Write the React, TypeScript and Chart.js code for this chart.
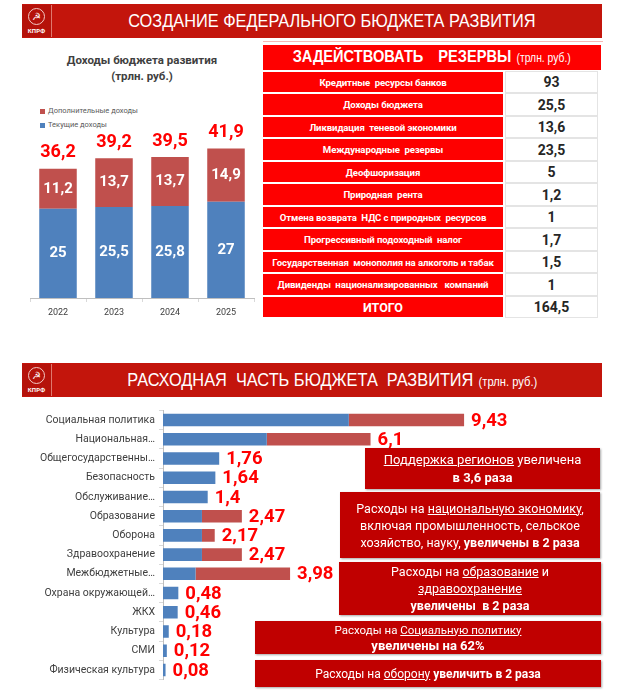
import React, { useEffect, useRef } from 'react';
import { Chart, registerables } from 'chart.js';

Chart.register(...registerables);

// ---------- DATA ----------
const years = ['2022', '2023', '2024', '2025'];
const currentIncome = [25, 25.5, 25.8, 27];
const extraIncome = [11.2, 13.7, 13.7, 14.9];
const incomeTotals = [36.2, 39.2, 39.5, 41.9];

const reserveItems = [
  'Кредитные  ресурсы банков',
  'Доходы бюджета',
  'Ликвидация  теневой экономики',
  'Международные  резервы',
  'Деофшоризация',
  'Природная  рента',
  'Отмена возврата  НДС с природных  ресурсов',
  'Прогрессивный подоходный  налог',
  'Государственная  монополия на алкоголь и табак',
  'Дивиденды  национализированных   компаний',
];
const reserveValues = [93, 25.5, 13.6, 23.5, 5, 1.2, 1, 1.7, 1.5, 1];
const reserveTotal = 164.5;

const spendCategories = [
  'Социальная политика',
  'Национальная…',
  'Общегосударственны…',
  'Безопасность',
  'Обслуживание…',
  'Образование',
  'Оборона',
  'Здравоохранение',
  'Межбюджетные…',
  'Охрана окружающей…',
  'ЖКХ',
  'Культура',
  'СМИ',
  'Физическая культура',
];
const spendBase = [5.82, 3.25, 1.76, 1.64, 1.4, 1.22, 1.22, 1.22, 1.02, 0.48, 0.46, 0.18, 0.12, 0.08];
const spendExtra = [3.61, 3.25, 0, 0, 0, 1.25, 0.4, 1.25, 2.96, 0, 0, 0, 0, 0];
const spendLabels = [9.43, 6.1, 1.76, 1.64, 1.4, 2.47, 2.17, 2.47, 3.98, 0.48, 0.46, 0.18, 0.12, 0.08];

// ---------- STYLE ----------
const CAL = 'Roboto, "Open Sans", "Noto Sans", sans-serif';
const NARROW = '"Liberation Sans", Arial, sans-serif';
const BLUE = '#4f81bd';
const RED = '#c0504d';
const BANNER = '#c3150c';

const fmt = (v: number) => String(v).replace('.', ',');

const incomeLabelsPlugin = {
  id: 'incomeLabels',
  afterDatasetsDraw(chart: any) {
    const { ctx } = chart;
    ctx.save();
    ctx.textAlign = 'center';
    ctx.textBaseline = 'middle';
    chart.data.datasets.forEach((ds: any, di: number) => {
      const meta = chart.getDatasetMeta(di);
      meta.data.forEach((el: any, i: number) => {
        ctx.fillStyle = '#ffffff';
        ctx.font = `bold 15px ${CAL}`;
        ctx.fillText(fmt(ds.data[i]), el.x, (el.y + el.base) / 2);
      });
    });
    const topMeta = chart.getDatasetMeta(chart.data.datasets.length - 1);
    topMeta.data.forEach((el: any, i: number) => {
      ctx.fillStyle = '#ff0000';
      ctx.font = `bold 18px ${CAL}`;
      ctx.fillText(fmt(incomeTotals[i]), el.x, el.y - 16);
    });
    ctx.restore();
  },
};

const spendLabelsPlugin = {
  id: 'spendLabels',
  afterDatasetsDraw(chart: any) {
    const { ctx } = chart;
    ctx.save();
    ctx.textAlign = 'left';
    ctx.textBaseline = 'middle';
    ctx.fillStyle = '#ff0000';
    ctx.font = `bold 18.5px ${CAL}`;
    const m0 = chart.getDatasetMeta(0);
    const m1 = chart.getDatasetMeta(1);
    m0.data.forEach((el: any, i: number) => {
      const end = Math.max(el.x, m1.data[i].x);
      ctx.fillText(fmt(spendLabels[i]), end + 7, el.y + 1);
    });
    ctx.restore();
  },
};

function IncomeChart() {
  const ref = useRef<HTMLCanvasElement>(null);
  useEffect(() => {
    const chart = new Chart(ref.current as HTMLCanvasElement, {
      type: 'bar',
      data: {
        labels: years,
        datasets: [
          { label: 'Текущие доходы', data: currentIncome, backgroundColor: BLUE, barPercentage: 0.67, categoryPercentage: 1 },
          { label: 'Дополнительные доходы', data: extraIncome, backgroundColor: RED, barPercentage: 0.67, categoryPercentage: 1 },
        ],
      },
      options: {
        animation: false,
        responsive: false,
        maintainAspectRatio: false,
        layout: { padding: { left: 8, right: 4, top: 0, bottom: 0 } },
        plugins: { legend: { display: false }, tooltip: { enabled: false }, title: { display: false } },
        scales: {
          x: {
            stacked: true,
            grid: { display: true, drawOnChartArea: false, drawTicks: true, tickLength: 4, color: '#d9d9d9' },
            border: { display: true, color: '#bfbfbf' },
            ticks: { font: { family: CAL, size: 9 }, color: '#404040', padding: 5 },
            afterFit: (s: any) => { s.height = 27; },
          },
          y: { stacked: true, display: false, min: 0, max: 55.5 },
        },
      },
      plugins: [incomeLabelsPlugin],
    });
    return () => chart.destroy();
  }, []);
  return <canvas ref={ref} width={236} height={225} style={{ position: 'absolute', left: 22, top: 100, width: 236, height: 225 }} />;
}

function SpendChart() {
  const ref = useRef<HTMLCanvasElement>(null);
  useEffect(() => {
    const chart = new Chart(ref.current as HTMLCanvasElement, {
      type: 'bar',
      data: {
        labels: spendCategories,
        datasets: [
          { label: 'Текущие', data: spendBase, backgroundColor: BLUE, barPercentage: 0.65, categoryPercentage: 1 },
          { label: 'Увеличение', data: spendExtra, backgroundColor: RED, barPercentage: 0.65, categoryPercentage: 1 },
        ],
      },
      options: {
        indexAxis: 'y',
        animation: false,
        responsive: false,
        maintainAspectRatio: false,
        layout: { padding: { left: 0, right: 27, top: 7, bottom: 8 } },
        plugins: { legend: { display: false }, tooltip: { enabled: false } },
        scales: {
          x: { stacked: true, display: false, min: 0, max: 14 },
          y: {
            stacked: true,
            grid: { display: true, drawOnChartArea: false, drawTicks: true, tickLength: 4, color: '#d9d9d9' },
            border: { display: true, color: '#bfbfbf' },
            ticks: { font: { family: CAL, size: 10.5 }, color: '#404040', padding: 4 },
            afterFit: (s: any) => { s.width = 163; },
          },
        },
      },
      plugins: [spendLabelsPlugin],
    });
    return () => chart.destroy();
  }, []);
  return <canvas ref={ref} width={637} height={290} style={{ position: 'absolute', left: 0, top: 400, width: 637, height: 290 }} />;
}

function Logo({ top }: { top: number }) {
  return (
    <div style={{ position: 'absolute', left: 22, top, width: 30, height: 32, background: '#b5120a', borderRight: '1px solid #e0786e', boxSizing: 'border-box', color: '#fff', textAlign: 'center', fontFamily: CAL }}>
      <div style={{ width: 15, height: 15, margin: '3px auto 0', border: '1px solid #f3c9c4', borderRadius: '50%', fontSize: 10, lineHeight: '15px' }}>☭</div>
      <div style={{ fontSize: 6, fontWeight: 700, marginTop: 2, letterSpacing: 0.2 }}>КПРФ</div>
    </div>
  );
}

function Banner({ top, children }: { top: number; children: React.ReactNode }) {
  return (
    <>
      <div style={{ position: 'absolute', left: 22, top, width: 580, height: 34, background: BANNER }} />
      <Logo top={top + 1} />
      <div style={{ position: 'absolute', left: 52, top, width: 560, height: 34, display: 'flex', alignItems: 'center', justifyContent: 'center', color: '#fff', fontFamily: NARROW, fontSize: 19, whiteSpace: 'nowrap' }}>
        <span style={{ display: 'inline-block', transform: 'scaleX(0.86)' }}>{children}</span>
      </div>
    </>
  );
}

function ReserveTable() {
  const rowTop = 71.7;
  const pitch = 22.5;
  const h = 20.7;
  const rows = reserveItems.map((name, i) => ({ name, value: fmt(reserveValues[i]), bold: false }));
  rows.push({ name: 'ИТОГО', value: fmt(reserveTotal), bold: true });
  return (
    <>
      <div style={{ position: 'absolute', left: 263, top: 41, width: 340, height: 1, background: '#f6b8b4' }} />
      <div style={{ position: 'absolute', left: 263, top: 45, width: 338, height: 24.5, background: '#fe0000', color: '#fff', display: 'flex', alignItems: 'center', justifyContent: 'center', whiteSpace: 'nowrap' }}>
        <span style={{ display: 'inline-block', transform: 'scaleX(0.86)' }}>
          <span style={{ fontFamily: NARROW, fontWeight: 700, fontSize: 17, wordSpacing: 4 }}>ЗАДЕЙСТВОВАТЬ&nbsp; РЕЗЕРВЫ</span>
          <span style={{ fontFamily: NARROW, fontSize: 12, marginLeft: 6 }}>(трлн. руб.)</span>
        </span>
      </div>
      {rows.map((r, i) => (
        <React.Fragment key={i}>
          <div style={{ position: 'absolute', left: 263, top: rowTop + i * pitch, width: 240, height: h, background: '#fe0000', color: '#fff', display: 'flex', alignItems: 'center', justifyContent: 'center', fontFamily: CAL, fontWeight: 700, fontSize: r.bold ? 12.5 : 9.6, whiteSpace: 'pre', letterSpacing: r.bold ? 0 : -0.1 }}>
            {r.name}
          </div>
          <div style={{ position: 'absolute', left: 505, top: rowTop + i * pitch - 1, width: 93, height: h + 2, boxSizing: 'border-box', border: '1px solid #e4e4e4', background: '#fff', color: '#262626', display: 'flex', alignItems: 'center', justifyContent: 'center', fontFamily: CAL, fontWeight: 700, fontSize: 14 }}>
            {r.value}
          </div>
        </React.Fragment>
      ))}
    </>
  );
}

const boxBase: React.CSSProperties = {
  position: 'absolute',
  background: '#c00000',
  color: '#fff',
  fontFamily: CAL,
  textAlign: 'center',
  display: 'flex',
  flexDirection: 'column',
  justifyContent: 'center',
  boxShadow: '1px 1px 2px rgba(0,0,0,0.35)',
  whiteSpace: 'nowrap',
};

export default function App() {
  useEffect(() => {
    document.body.style.margin = '0';
  }, []);
  return (
    <div style={{ position: 'absolute', left: 0, top: 0, width: 637, height: 700, overflow: 'hidden', background: '#fff' }}>
      <Banner top={4}>СОЗДАНИЕ ФЕДЕРАЛЬНОГО БЮДЖЕТА РАЗВИТИЯ</Banner>

      <div style={{ position: 'absolute', left: 22, top: 52, width: 240, textAlign: 'center', fontFamily: CAL, fontWeight: 700, fontSize: 11.5, color: '#404040', lineHeight: '16px' }}>
        <div>Доходы бюджета развития</div>
        <div>(трлн. руб.)</div>
      </div>
      <div style={{ position: 'absolute', left: 40, top: 104, fontFamily: CAL, fontSize: 7.5, color: '#595959', lineHeight: '14px' }}>
        <div style={{ display: 'flex', alignItems: 'center' }}>
          <span style={{ width: 5, height: 5, background: RED, display: 'inline-block', marginRight: 3 }} />Дополнительные доходы
        </div>
        <div style={{ display: 'flex', alignItems: 'center' }}>
          <span style={{ width: 5, height: 5, background: BLUE, display: 'inline-block', marginRight: 3 }} />Текущие доходы
        </div>
      </div>
      <IncomeChart />

      <ReserveTable />

      <Banner top={363}>
        <span>РАСХОДНАЯ&nbsp; ЧАСТЬ БЮДЖЕТА&nbsp; РАЗВИТИЯ</span>
        <span style={{ fontSize: 13, marginLeft: 6 }}>(трлн. руб.)</span>
      </Banner>

      <SpendChart />

      <div style={{ ...boxBase, left: 365, top: 448, width: 235, height: 41, fontSize: 13, lineHeight: '18px' }}>
        <div><u>Поддержка регионов</u> увеличена</div>
        <div><b>в 3,6 раза</b></div>
      </div>
      <div style={{ ...boxBase, left: 340, top: 492, width: 260, height: 66, fontSize: 12.5, lineHeight: '17px' }}>
        <div>Расходы на <u>национальную экономику</u>,</div>
        <div>включая промышленность, сельское</div>
        <div>хозяйство, науку, <b>увеличены в 2 раза</b></div>
      </div>
      <div style={{ ...boxBase, left: 339, top: 562, width: 262, height: 53, fontSize: 12.5, lineHeight: '17px' }}>
        <div>Расходы на <u>образование</u> и</div>
        <div><u>здравоохранение</u></div>
        <div><b>увеличены&nbsp; в 2 раза</b></div>
      </div>
      <div style={{ ...boxBase, left: 255, top: 621, width: 346, height: 33, lineHeight: '15px' }}>
        <div style={{ fontSize: 11.5 }}>Расходы на <u>Социальную политику</u></div>
        <div style={{ fontSize: 13 }}><b>увеличены на 62%</b></div>
      </div>
      <div style={{ ...boxBase, left: 255, top: 660, width: 346, height: 27, fontSize: 12, lineHeight: '16px' }}>
        <div>Расходы на <u>оборону</u> <b>увеличить в 2 раза</b></div>
      </div>
    </div>
  );
}
